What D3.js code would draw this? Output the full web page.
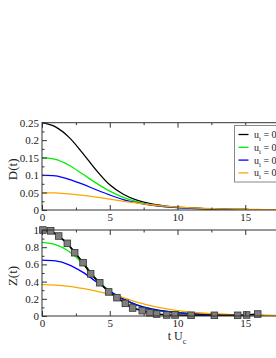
<!DOCTYPE html>
<html>
<head>
<meta charset="utf-8">
<script src="https://cdn.jsdelivr.net/npm/d3@7"></script>
<style>
  body { margin: 0; background: #fff; }
  svg text { font-family: "Liberation Serif", "DejaVu Serif", serif; }
</style>
</head>
<body>
<svg id="chart"></svg>
<script>
// sample times (t U_c)
const times = [0, 1, 2, 3, 4, 5, 6, 7, 8, 9, 10, 11, 12, 13, 14, 15, 16, 17, 18, 19, 20];

// D(t) for the four initial conditions
const dBlack  = [0.25, 0.238, 0.208, 0.163, 0.114, 0.072, 0.045, 0.028, 0.018, 0.012, 0.008, 0.006, 0.004, 0.003, 0.002, 0.0015, 0.001, 0.001, 0.001, 0.001, 0.001];
const dGreen  = [0.15, 0.145, 0.128, 0.103, 0.077, 0.054, 0.036, 0.024, 0.015, 0.010, 0.007, 0.005, 0.0035, 0.0025, 0.002, 0.0015, 0.001, 0.001, 0.001, 0.001, 0.001];
const dBlue   = [0.10, 0.098, 0.088, 0.074, 0.058, 0.043, 0.030, 0.021, 0.014, 0.010, 0.007, 0.005, 0.0035, 0.0025, 0.002, 0.0015, 0.001, 0.001, 0.001, 0.001, 0.001];
const dOrange = [0.05, 0.049, 0.046, 0.042, 0.037, 0.031, 0.025, 0.020, 0.015, 0.011, 0.008, 0.006, 0.0045, 0.0035, 0.0025, 0.002, 0.0015, 0.001, 0.001, 0.001, 0.001];

// Z(t)
const zBlack  = [1.0, 0.955, 0.82, 0.625, 0.43, 0.28, 0.19, 0.125, 0.08, 0.055, 0.038, 0.027, 0.019, 0.014, 0.010, 0.008, 0.006, 0.005, 0.004, 0.003, 0.003];
const zGreen  = [0.855, 0.83, 0.75, 0.61, 0.43, 0.29, 0.20, 0.13, 0.085, 0.057, 0.040, 0.028, 0.020, 0.014, 0.010, 0.008, 0.006, 0.005, 0.004, 0.003, 0.003];
const zBlue   = [0.65, 0.64, 0.595, 0.51, 0.40, 0.29, 0.20, 0.13, 0.085, 0.058, 0.040, 0.028, 0.020, 0.014, 0.010, 0.008, 0.006, 0.005, 0.004, 0.003, 0.003];
const zOrange = [0.365, 0.36, 0.345, 0.32, 0.29, 0.255, 0.215, 0.16, 0.12, 0.088, 0.063, 0.045, 0.032, 0.023, 0.017, 0.013, 0.010, 0.008, 0.006, 0.005, 0.004];

// reference points (squares)
const squareT = [0.07, 0.64, 1.23, 1.87, 2.41, 3.03, 3.59, 4.26, 4.92, 5.53, 6.15, 6.69, 7.4, 7.97, 8.46, 9.2, 9.82, 11.0, 12.72, 14.44, 15.1, 15.92];
const squareZ = [1.0, 0.99, 0.93, 0.845, 0.736, 0.62, 0.49, 0.387, 0.28, 0.213, 0.147, 0.093, 0.062, 0.038, 0.023, 0.012, 0.012, 0.008, 0.008, 0.008, 0.012, 0.023];

const legendValues = ["0.5", "0.3", "0.2", "0.1"];
const seriesColors = ["#000000", "#00ee00", "#0000ff", "#ffa500"];

const xMajor = [0, 5, 10, 15, 20];
const xLabels = [0, 5, 10, 15];
const xMinor = [2.5, 7.5, 12.5, 17.5];
const dMajor = [0, 0.05, 0.1, 0.15, 0.2, 0.25];
const dMinor = [0.025, 0.075, 0.125, 0.175, 0.225];
const zMajor = [0, 0.2, 0.4, 0.6, 0.8, 1];
const zMinor = [0.1, 0.3, 0.5, 0.7, 0.9];

const serif = '"Liberation Serif", "DejaVu Serif", serif';
const width = 276, height = 358;
const svg = d3.select("#chart").attr("width", width).attr("height", height);

const left = 42, right = 313;
const xScale = d3.scaleLinear().domain([0, 20]).range([left, right]);

const panels = [
    {top: 122.7, bottom: 210, domain: [0, 0.25], major: dMajor, minor: dMinor,
     fmt: d => d === 0 ? "0" : String(d), label: "D(t)",
     series: [dBlack, dGreen, dBlue, dOrange]},
    {top: 230, bottom: 316, domain: [0, 1], major: zMajor, minor: zMinor,
     fmt: d => String(d), label: "Z(t)",
     series: [zBlack, zGreen, zBlue, zOrange]}
];

panels.forEach((p, pi) => {
    const yScale = d3.scaleLinear().domain(p.domain).range([p.bottom, p.top]);
    const g = svg.append("g");

    const clipId = "clip" + pi;
    svg.append("clipPath").attr("id", clipId)
        .append("rect").attr("x", left).attr("y", p.top - 4)
        .attr("width", right - left).attr("height", p.bottom - p.top + 4);

    // curves
    const line = d3.line()
        .x((d, i) => xScale(times[i]))
        .y(d => yScale(d))
        .curve(d3.curveMonotoneX);

    const plot = g.append("g").attr("clip-path", `url(#${clipId})`);
    p.series.forEach((s, si) => {
        plot.append("path")
            .datum(s)
            .attr("d", line)
            .attr("fill", "none")
            .attr("stroke", seriesColors[si])
            .attr("stroke-width", 1.3);
    });

    if (pi === 1) {
        const sqLine = d3.line()
            .x((d, i) => xScale(squareT[i]))
            .y(d => yScale(d));
        plot.append("path")
            .datum(squareZ)
            .attr("d", sqLine)
            .attr("fill", "none")
            .attr("stroke", "#000")
            .attr("stroke-width", 1.6);
        g.append("g").selectAll("rect")
            .data(squareZ)
            .enter().append("rect")
            .attr("x", (d, i) => xScale(squareT[i]) - 3.3)
            .attr("y", d => yScale(d) - 3.3)
            .attr("width", 6.6)
            .attr("height", 6.6)
            .attr("fill", "#7f7f7f")
            .attr("stroke", "#333")
            .attr("stroke-width", 0.8);
    }

    // frame
    g.append("rect")
        .attr("x", left).attr("y", p.top)
        .attr("width", right - left).attr("height", p.bottom - p.top)
        .attr("fill", "none").attr("stroke", "#333").attr("stroke-width", 1);

    // bottom axis with labels
    const xAxis = d3.axisBottom(xScale).tickValues(xLabels)
        .tickSizeInner(-5).tickSizeOuter(0).tickPadding(3).tickFormat(d3.format("d"));
    const xg = g.append("g").attr("transform", `translate(0,${p.bottom})`).call(xAxis);
    const xMin = d3.axisBottom(xScale).tickValues(xMinor)
        .tickSizeInner(-2.5).tickSizeOuter(0).tickFormat("");
    const xmg = g.append("g").attr("transform", `translate(0,${p.bottom})`).call(xMin);
    // top ticks
    const xTop = d3.axisTop(xScale).tickValues(xMajor).tickSizeInner(-5).tickSizeOuter(0).tickFormat("");
    const xtg = g.append("g").attr("transform", `translate(0,${p.top})`).call(xTop);
    const xTopMin = d3.axisTop(xScale).tickValues(xMinor).tickSizeInner(-2.5).tickSizeOuter(0).tickFormat("");
    const xtmg = g.append("g").attr("transform", `translate(0,${p.top})`).call(xTopMin);

    // left axis
    const yAxis = d3.axisLeft(yScale).tickValues(p.major)
        .tickSizeInner(-5).tickSizeOuter(0).tickPadding(3).tickFormat(p.fmt);
    const yg = g.append("g").attr("transform", `translate(${left},0)`).call(yAxis);
    const yMin = d3.axisLeft(yScale).tickValues(p.minor)
        .tickSizeInner(-2.5).tickSizeOuter(0).tickFormat("");
    const ymg = g.append("g").attr("transform", `translate(${left},0)`).call(yMin);

    [xg, xmg, xtg, xtmg, yg, ymg].forEach(a => {
        a.attr("font-family", serif).attr("font-size", 11);
        a.select(".domain").remove();
        a.selectAll("line").attr("stroke", "#333");
        a.selectAll("text").attr("fill", "#222");
    });

    // axis title
    g.append("text")
        .attr("transform", `translate(17,${(p.top + p.bottom) / 2 + 3}) rotate(-90)`)
        .attr("text-anchor", "middle")
        .attr("fill", "#222")
        .attr("font-family", serif)
        .attr("font-size", 13)
        .text(p.label);
});

// x-axis title: t U_c
const xt = svg.append("text")
    .attr("x", 177)
    .attr("y", 340)
    .attr("text-anchor", "middle")
    .attr("fill", "#222")
    .attr("font-family", serif)
    .attr("font-size", 12);
xt.append("tspan").text("t U");
xt.append("tspan").attr("dy", 4).attr("font-size", 8).text("c");

// legend
const legend = svg.append("g");
legend.append("rect")
    .attr("x", 234.5).attr("y", 125.5)
    .attr("width", 70).attr("height", 56.5)
    .attr("fill", "#fff").attr("stroke", "#888").attr("stroke-width", 1);

legendValues.forEach((v, i) => {
    const y = 134.5 + i * 12.8;
    legend.append("line")
        .attr("x1", 238.5).attr("x2", 248.5)
        .attr("y1", y).attr("y2", y)
        .attr("stroke", seriesColors[i]).attr("stroke-width", 1.3);
    const t = legend.append("text")
        .attr("x", 254).attr("y", y + 3.5)
        .attr("fill", "#222")
        .attr("font-family", serif)
        .attr("font-size", 10);
    t.append("tspan").text("u");
    t.append("tspan").attr("dy", 3).attr("font-size", 7).text("i");
    t.append("tspan").attr("dy", -3).text(" = " + v);
});
</script>
</body>
</html>
